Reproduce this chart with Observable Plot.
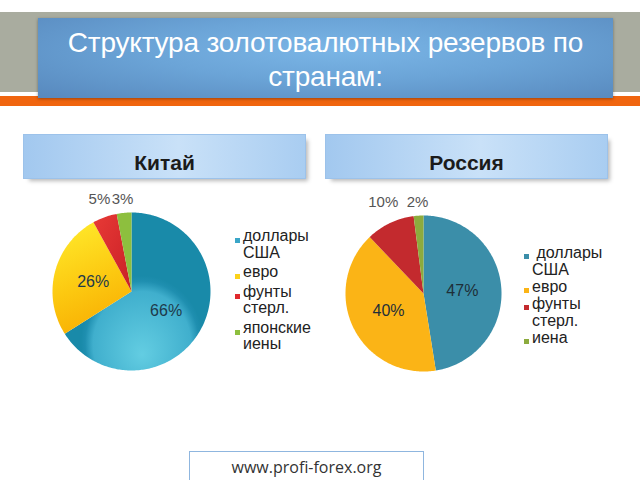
<!DOCTYPE html>
<html>
<head>
<meta charset="utf-8">
<script src="https://cdn.jsdelivr.net/npm/d3@7"></script>
<script src="https://cdn.jsdelivr.net/npm/@observablehq/plot@0.6"></script>
<style>
  html, body { margin: 0; padding: 0; background: #fff; }
  #page { position: relative; width: 640px; height: 480px; overflow: hidden; font-family: "Liberation Sans", Arial, sans-serif; }
  .abs { position: absolute; }
  #band { left: 0; top: 12px; width: 640px; height: 80px; background: #a9ac9f; }
  #orange { left: 0; top: 96px; width: 640px; height: 10px; background: #f0650f; }
  #titlebox { left: 38px; top: 18px; width: 575px; height: 80px;
    background: radial-gradient(ellipse at 52% 40%, #7ab5e6 0%, #6ba4d7 45%, #5788bd 100%);
    box-shadow: 0 1px 3px rgba(0,0,0,0.35);
    color: #fff; font-size: 28px; line-height: 34px; text-align: center; padding-top: 8px; box-sizing: border-box; letter-spacing: -0.2px; }
  .sub { top: 134px; width: 283px; height: 45px; box-sizing: border-box;
    border: 1px solid #9cc2ea;
    background: linear-gradient(90deg, #a2c8ef 0%, #c9e1f8 55%, #a9cdf1 100%);
    box-shadow: 4px 4px 4px -2px rgba(0,0,0,0.28);
    font-weight: bold; font-size: 21px; color: #1b1b1b; text-align: center; line-height: 56px; }
  .legend { font-size: 16px; color: #222; line-height: 16.5px; }
  .legend .item { position: relative; padding-left: 8px; }
  .legend .sw { position: absolute; left: 0; width: 5px; height: 5px; }
  #footer { left: 189px; top: 451px; width: 235px; height: 29px; box-sizing: border-box;
    border: 1.5px solid #8fb6df; border-bottom: none; text-align: center; font-family: "Open Sans", sans-serif;
    font-size: 16px; color: #333; line-height: 30px; }
  .pie svg { overflow: visible; }
</style>
</head>
<body>
<div id="page">
  <div id="band" class="abs"></div>
  <div id="orange" class="abs"></div>
  <div id="titlebox" class="abs">Структура золотовалютных резервов по<br>странам:</div>
  <div class="abs sub" style="left:23px">Китай</div>
  <div class="abs sub" style="left:325px">Россия</div>
  <div id="pieChina" class="abs pie" style="left:31px; top:191px"></div>
  <div id="pieRussia" class="abs pie" style="left:323px; top:193px"></div>
  <div id="legChina" class="abs legend" style="left:235px; top:228px; width:80px"></div>
  <div id="legRussia" class="abs legend" style="left:524px; top:244px; width:80px; line-height:17px"></div>
  <div id="footer" class="abs">www.profi-forex.org</div>
</div>
<script>
// ---- data ----
const chinaTitle = "Китай";
const russiaTitle = "Россия";
const chinaCategories = ["доллары США", "евро", "фунты стерл.", "японские иены"];
const chinaValues = [66, 26, 5, 3];
const chinaLabels = ["66%", "26%", "5%", "3%"];
const russiaCategories = ["доллары США", "евро", "фунты стерл.", "иена"];
const russiaValues = [47, 40, 10, 2];
const russiaLabels = ["47%", "40%", "10%", "2%"];

// ---- styles ----
const chinaFills = ["url(#cnBlue)", "url(#cnYellow)", "url(#cnRed)", "#8dbf3e"];
const chinaSwatch = ["#3aa6c8", "#fcd21a", "#e0292d", "#8dbf3e"];
const russiaFills = ["#3b8ea9", "#fbb416", "#c32a2e", "#8cab3d"];

function wedges(cats, vals) {
  const total = d3.sum(vals);
  let acc = 0;
  const pts = [], labels = [];
  cats.forEach((c, i) => {
    const a0 = acc / total * 2 * Math.PI;
    acc += vals[i];
    const a1 = acc / total * 2 * Math.PI;
    pts.push({k: c, x: 0, y: 0});
    const n = Math.max(2, Math.ceil((a1 - a0) / (Math.PI / 180)));
    for (let j = 0; j <= n; j++) {
      const a = a0 + (a1 - a0) * j / n;
      pts.push({k: c, x: Math.sin(a), y: Math.cos(a)});
    }
    pts.push({k: c, x: 0, y: 0});
    const m = (a0 + a1) / 2;
    const inside = vals[i] / total >= 0.15;
    labels.push({i, k: c, inside,
      x: inside ? 0.5 * Math.sin(m) : 1.2 * Math.sin(m),
      y: inside ? 0.5 * Math.cos(m) : 1.17});
  });
  return {pts, labels};
}

function pie(cats, vals, labs, fills, innerColor, size, r) {
  const {pts, labels} = wedges(cats, vals);
  const R = size / 2 / r;
  const chart = Plot.plot({
    width: size, height: size, margin: 0,
    x: {domain: [-R, R], axis: null},
    y: {domain: [-R, R], axis: null},
    color: {domain: cats, range: fills},
    style: {overflow: "visible", background: "transparent"},
    marks: [
      Plot.line(pts, {x: "x", y: "y", z: "k", fill: "k", stroke: "none", curve: "linear"}),
      Plot.text(labels.filter(d => d.inside), {x: "x", y: "y", text: d => labs[d.i], fill: innerColor, fontSize: 16, fontFamily: "Liberation Sans, Arial, sans-serif"}),
      Plot.text(labels.filter(d => !d.inside), {x: "x", y: "y", text: d => labs[d.i], fill: "#555", fontSize: 15, fontFamily: "Liberation Sans, Arial, sans-serif"})
    ]
  });
  return chart;
}

const cn = pie(chinaCategories, chinaValues, chinaLabels, chinaFills, "#1e3a4a", 200, 79);
const defs = d3.select(cn).insert("defs", ":first-child");
const rg = defs.append("radialGradient").attr("id", "cnBlue").attr("cx", 0.53).attr("cy", 0.82).attr("r", 0.42).attr("fx", 0.53).attr("fy", 0.9);
rg.append("stop").attr("offset", 0).attr("stop-color", "#63cde2");
rg.append("stop").attr("offset", 0.8).attr("stop-color", "#40afcd");
rg.append("stop").attr("offset", 0.93).attr("stop-color", "#1f8fb0");
rg.append("stop").attr("offset", 1).attr("stop-color", "#198aa9");
const yg = defs.append("linearGradient").attr("id", "cnYellow").attr("x1", 0.3).attr("y1", 0).attr("x2", 0.6).attr("y2", 1);
yg.append("stop").attr("offset", 0).attr("stop-color", "#ffe82a");
yg.append("stop").attr("offset", 0.55).attr("stop-color", "#fcc810");
yg.append("stop").attr("offset", 1).attr("stop-color", "#f8ad02");
const rdg = defs.append("linearGradient").attr("id", "cnRed").attr("x1", 0).attr("y1", 0).attr("x2", 1).attr("y2", 1);
rdg.append("stop").attr("offset", 0).attr("stop-color", "#e83a36");
rdg.append("stop").attr("offset", 1).attr("stop-color", "#c81f26");
document.getElementById("pieChina").appendChild(cn);

const ru = pie(russiaCategories, russiaValues, russiaLabels, russiaFills, "#1e2e38", 200, 78);
document.getElementById("pieRussia").appendChild(ru);

function legend(id, cats, colors, leadSpace) {
  const el = document.getElementById(id);
  cats.forEach((c, i) => {
    const it = document.createElement("div");
    it.className = "item";
    it.style.marginBottom = id === "legChina" ? "3px" : "0px";
    const sw = document.createElement("span");
    sw.className = "sw";
    sw.style.background = colors[i];
    sw.style.top = "10px";
    it.appendChild(sw);
    const t = document.createElement("span");
    t.textContent = (leadSpace && i === 0 ? "\u00a0" : "") + c;
    it.appendChild(t);
    el.appendChild(it);
  });
}
legend("legChina", chinaCategories, chinaSwatch, false);
legend("legRussia", russiaCategories, russiaFills, true);
</script>
</body>
</html>
